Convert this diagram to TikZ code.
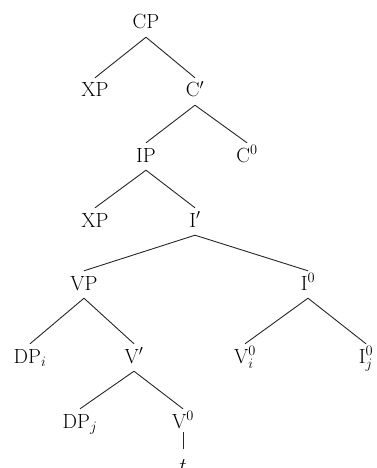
\documentclass[tikz,border=0pt]{standalone}
\usepackage{amsmath}
\usepackage{tikz}
\begin{document}
\begin{tikzpicture}[x=1pt, y=-1pt,
    font=\fontsize{20.5}{24}\selectfont,
    cat/.style={inner sep=0pt, anchor=base, text height=19pt, text depth=8pt},
    branch/.style={line width=0.9pt, black!85}]
  \useasboundingbox (0,0) rectangle (377,468);
  % categories, placed at their baselines (pixel coordinates of the reference)
  \node[cat] (cp)   at (146,29)  {CP};
  \node[cat] (xpa)  at (95,97)   {XP};
  \node[cat] (cbar) at (195,97)  {C$'$};
  \node[cat] (ip)   at (146,162) {IP};
  \node[cat] (czero) at (247,162) {C$^0$};
  \node[cat] (xpb)  at (95,227)  {XP};
  \node[cat] (ibar) at (195,227) {I$'$};
  \node[cat] (vp)   at (84,290)  {VP};
  \node[cat] (izero) at (308,290) {I$^0$};
  \node[cat] (dpi)  at (30,363)  {DP$_i$};
  \node[cat] (vbar) at (134,363) {V$'$};
  \node[cat] (vzi)  at (245,363) {V$^0_i$};
  \node[cat] (izj)  at (366,363) {I$^0_j$};
  \node[cat] (dpj)  at (80,428)  {DP$_j$};
  \node[cat, text depth=4pt] (vzero) at (183,428) {V$^0$};
  \node[cat, text height=23pt] (trace) at (183,472) {$t$};
  % branches
  \foreach \p/\c in {cp/xpa, cp/cbar, cbar/ip, cbar/czero, ip/xpb, ip/ibar,
                     ibar/vp, ibar/izero, vp/dpi, vp/vbar, izero/vzi, izero/izj,
                     vbar/dpj, vbar/vzero}
    \draw[branch] (\p.south) -- (\c.north);
  \draw[branch] (vzero.south) -- (trace.north);
\end{tikzpicture}
\end{document}
